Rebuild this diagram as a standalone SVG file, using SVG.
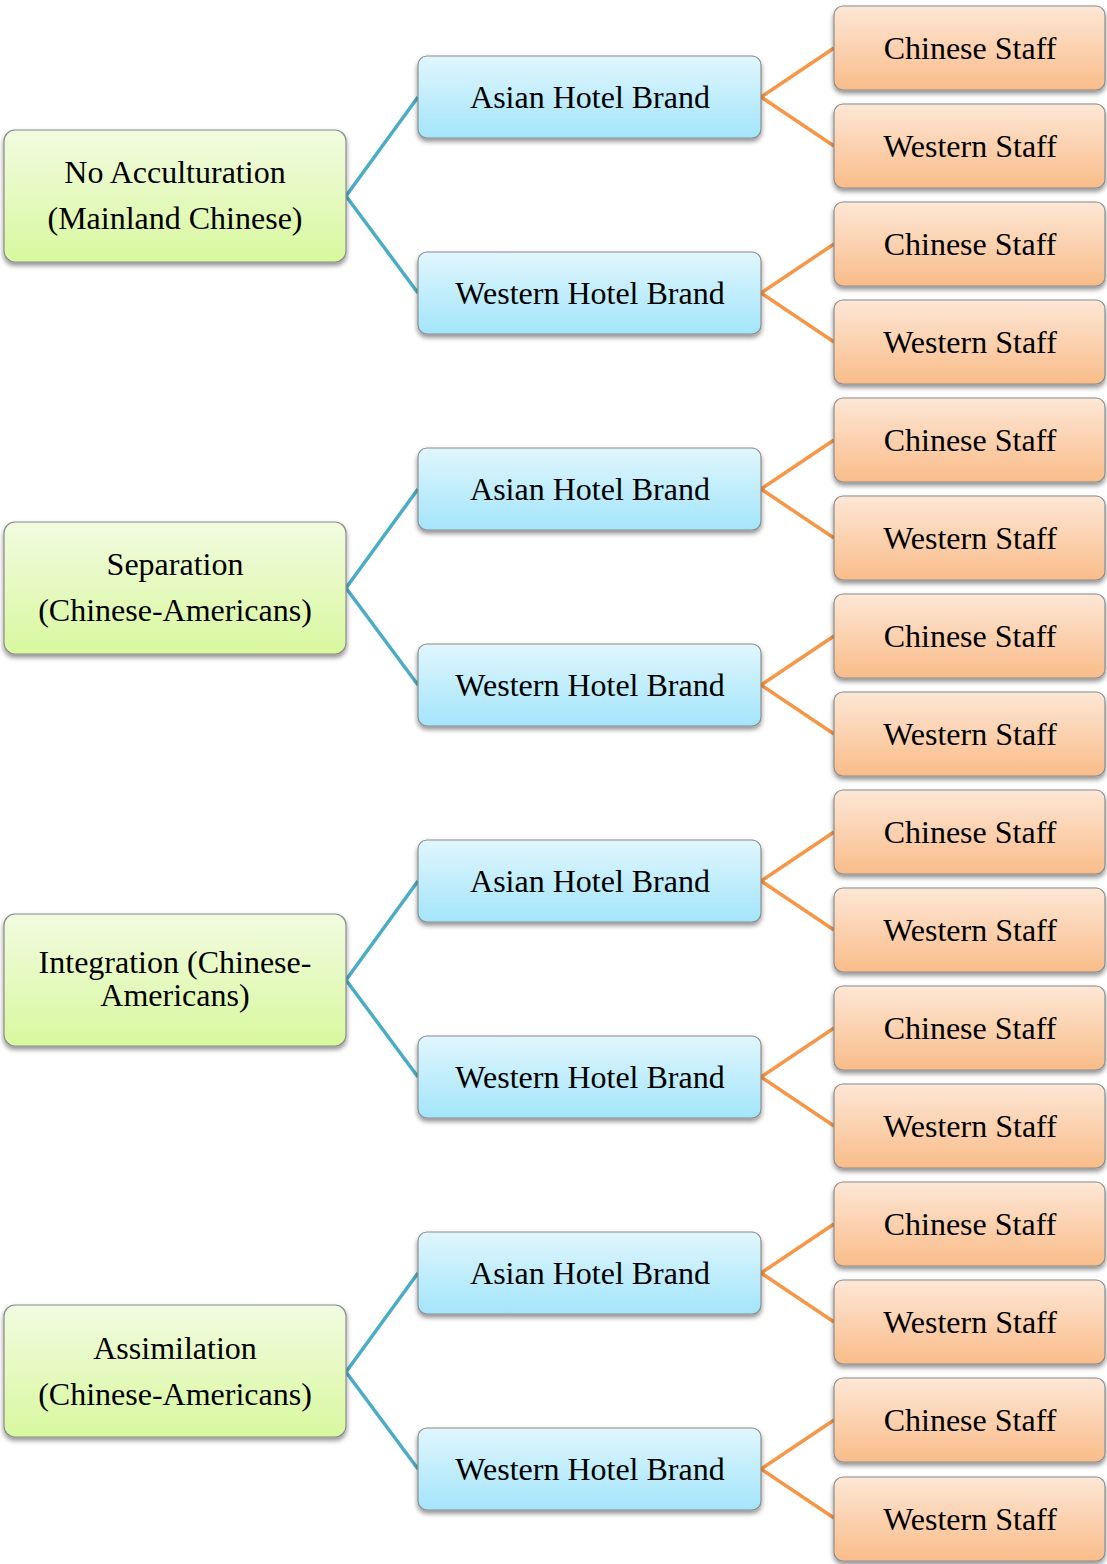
<svg xmlns="http://www.w3.org/2000/svg" width="1107" height="1564" viewBox="0 0 1107 1564">
<defs>
<linearGradient id="gG" x1="0" y1="0" x2="0" y2="1"><stop offset="0" stop-color="#f2fbe0"/><stop offset="1" stop-color="#d8f89e"/></linearGradient>
<linearGradient id="gB" x1="0" y1="0" x2="0" y2="1"><stop offset="0" stop-color="#e0f6fd"/><stop offset="1" stop-color="#a3e5fb"/></linearGradient>
<linearGradient id="gO" x1="0" y1="0" x2="0" y2="1"><stop offset="0" stop-color="#fde7d6"/><stop offset="1" stop-color="#f9bc89"/></linearGradient>
<filter id="sh" x="-10%" y="-10%" width="120%" height="130%"><feGaussianBlur in="SourceAlpha" stdDeviation="2.5"/><feOffset dy="3" dx="0"/><feComponentTransfer><feFuncA type="linear" slope="0.45"/></feComponentTransfer><feMerge><feMergeNode/><feMergeNode in="SourceGraphic"/></feMerge></filter>
</defs>
<style>
rect{stroke:#8c8c8c;stroke-width:1.2;filter:url(#sh)}
.g rect{fill:url(#gG)}
.b rect{fill:url(#gB)}
.o rect{fill:url(#gO)}
text{font-family:"Liberation Serif","Times New Roman",serif;font-size:32px;fill:#000;text-anchor:middle}
.cb{stroke:#4bacc6;stroke-width:3.5;fill:none;stroke-linejoin:miter}
.co{stroke:#f79646;stroke-width:3.5;fill:none;stroke-linejoin:miter}
</style>
<g id="connectors">
<polyline class="cb" points="418,97 346,196 418,293"/>
<polyline class="co" points="834,48 761,97 834,146"/>
<polyline class="co" points="834,244 761,293 834,342"/>
<polyline class="cb" points="418,489 346,588 418,685"/>
<polyline class="co" points="834,440 761,489 834,538"/>
<polyline class="co" points="834,636 761,685 834,734"/>
<polyline class="cb" points="418,881 346,980 418,1077"/>
<polyline class="co" points="834,832 761,881 834,930"/>
<polyline class="co" points="834,1028 761,1077 834,1126"/>
<polyline class="cb" points="418,1273 346,1372 418,1469"/>
<polyline class="co" points="834,1224 761,1273 834,1322"/>
<polyline class="co" points="834,1420 761,1469 834,1518"/>
</g>
<g id="n1" class="g"><rect x="4" y="130" width="342" height="132" rx="11"/><text x="175" y="183">No Acculturation</text><text x="175" y="229">(Mainland Chinese)</text></g>
<g id="n1a" class="b"><rect x="418" y="56" width="343" height="82" rx="9"/><text x="590" y="108">Asian Hotel Brand</text></g>
<g id="n1w" class="b"><rect x="418" y="252" width="343" height="82" rx="9"/><text x="590" y="304">Western Hotel Brand</text></g>
<g id="n1ac" class="o"><rect x="834" y="6" width="271" height="84" rx="9"/><text x="970" y="59">Chinese Staff</text></g>
<g id="n1aw" class="o"><rect x="834" y="104" width="271" height="84" rx="9"/><text x="970" y="157">Western Staff</text></g>
<g id="n1wc" class="o"><rect x="834" y="202" width="271" height="84" rx="9"/><text x="970" y="255">Chinese Staff</text></g>
<g id="n1ww" class="o"><rect x="834" y="300" width="271" height="84" rx="9"/><text x="970" y="353">Western Staff</text></g>

<g id="n2" class="g"><rect x="4" y="522" width="342" height="132" rx="11"/><text x="175" y="575">Separation</text><text x="175" y="621">(Chinese-Americans)</text></g>
<g id="n2a" class="b"><rect x="418" y="448" width="343" height="82" rx="9"/><text x="590" y="500">Asian Hotel Brand</text></g>
<g id="n2w" class="b"><rect x="418" y="644" width="343" height="82" rx="9"/><text x="590" y="696">Western Hotel Brand</text></g>
<g id="n2ac" class="o"><rect x="834" y="398" width="271" height="84" rx="9"/><text x="970" y="451">Chinese Staff</text></g>
<g id="n2aw" class="o"><rect x="834" y="496" width="271" height="84" rx="9"/><text x="970" y="549">Western Staff</text></g>
<g id="n2wc" class="o"><rect x="834" y="594" width="271" height="84" rx="9"/><text x="970" y="647">Chinese Staff</text></g>
<g id="n2ww" class="o"><rect x="834" y="692" width="271" height="84" rx="9"/><text x="970" y="745">Western Staff</text></g>

<g id="n3" class="g"><rect x="4" y="914" width="342" height="132" rx="11"/><text x="175" y="973">Integration (Chinese-</text><text x="175" y="1006">Americans)</text></g>
<g id="n3a" class="b"><rect x="418" y="840" width="343" height="82" rx="9"/><text x="590" y="892">Asian Hotel Brand</text></g>
<g id="n3w" class="b"><rect x="418" y="1036" width="343" height="82" rx="9"/><text x="590" y="1088">Western Hotel Brand</text></g>
<g id="n3ac" class="o"><rect x="834" y="790" width="271" height="84" rx="9"/><text x="970" y="843">Chinese Staff</text></g>
<g id="n3aw" class="o"><rect x="834" y="888" width="271" height="84" rx="9"/><text x="970" y="941">Western Staff</text></g>
<g id="n3wc" class="o"><rect x="834" y="986" width="271" height="84" rx="9"/><text x="970" y="1039">Chinese Staff</text></g>
<g id="n3ww" class="o"><rect x="834" y="1084" width="271" height="84" rx="9"/><text x="970" y="1137">Western Staff</text></g>

<g id="n4" class="g"><rect x="4" y="1305" width="342" height="132" rx="11"/><text x="175" y="1359">Assimilation</text><text x="175" y="1405">(Chinese-Americans)</text></g>
<g id="n4a" class="b"><rect x="418" y="1232" width="343" height="82" rx="9"/><text x="590" y="1284">Asian Hotel Brand</text></g>
<g id="n4w" class="b"><rect x="418" y="1428" width="343" height="82" rx="9"/><text x="590" y="1480">Western Hotel Brand</text></g>
<g id="n4ac" class="o"><rect x="834" y="1182" width="271" height="84" rx="9"/><text x="970" y="1235">Chinese Staff</text></g>
<g id="n4aw" class="o"><rect x="834" y="1280" width="271" height="84" rx="9"/><text x="970" y="1333">Western Staff</text></g>
<g id="n4wc" class="o"><rect x="834" y="1378" width="271" height="84" rx="9"/><text x="970" y="1431">Chinese Staff</text></g>
<g id="n4ww" class="o"><rect x="834" y="1477" width="271" height="84" rx="9"/><text x="970" y="1530">Western Staff</text></g>
</svg>
